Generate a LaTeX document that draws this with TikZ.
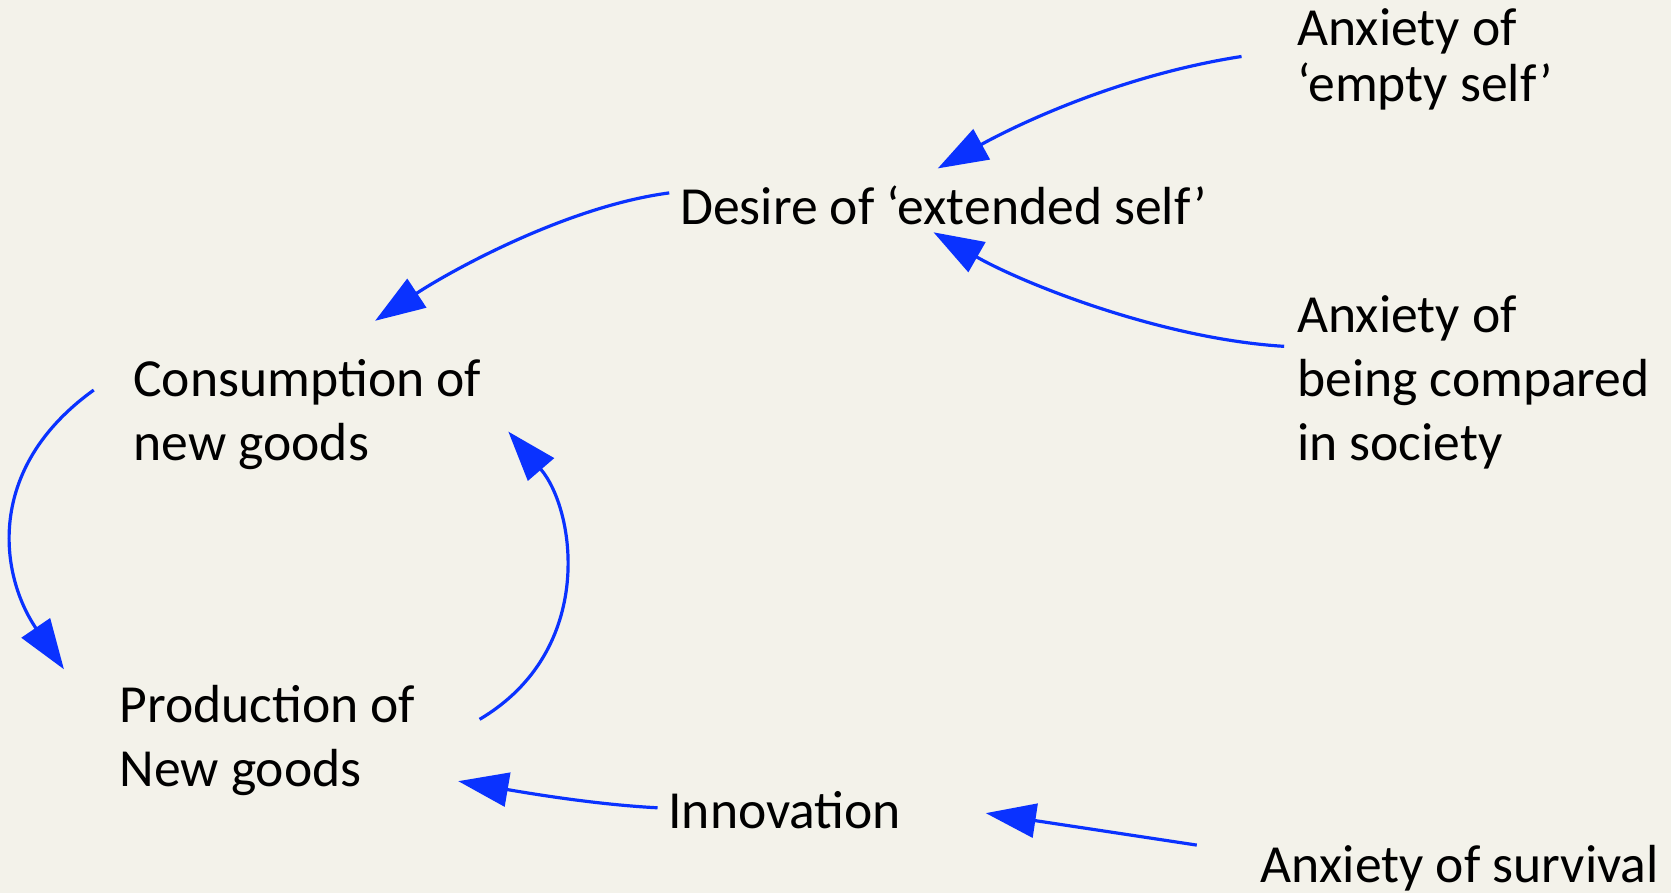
\documentclass[tikz,border=0pt]{standalone}
\usepackage{fontspec}
\setmainfont{Carlito}
\usetikzlibrary{arrows.meta}
\definecolor{bgc}{RGB}{243,242,234}
\definecolor{arrowblue}{RGB}{10,50,255}
\begin{document}
\begin{tikzpicture}[x=1pt,y=-1pt,
  lbl/.style={anchor=base west,inner sep=0pt,align=left,text=black,
    font=\fontsize{50.3}{60}\selectfont},
  conn/.style={draw=arrowblue,line width=3pt,
    -{Triangle[length=47pt,width=32pt]}}]
\fill[bgc] (0,0) rectangle (1568,838);
\useasboundingbox (0,0) rectangle (1568,838);

% multi-line nodes: base anchor lies on the last line
\node[lbl,font=\fontsize{50.3}{52}\selectfont] (anx1) at (1217,95) {Anxiety of\\‘empty self’};
\node[lbl] (desire) at (638,211) {Desire of ‘extended self’};
\node[lbl] (cons) at (125,432) {Consumption of\\new goods};
\node[lbl] (prod) at (112,738) {Production of\\New goods};
\node[lbl] (innov) at (627,777) {Innovation};
\node[lbl] (anx2) at (1217,432) {Anxiety of\\being compared\\in society};
\node[lbl] (anx3) at (1183,828) {Anxiety of survival};

\coordinate (a1s) at (1165,53);   \coordinate (a1e) at (880,158);
\coordinate (a2s) at (1205,325);  \coordinate (a2e) at (876,218);
\coordinate (a3s) at (628,181);   \coordinate (a3e) at (352,301);
\coordinate (a4s) at (88,366);    \coordinate (a4e) at (60,628);
\coordinate (a5s) at (450,675);   \coordinate (a5e) at (477,405);
\coordinate (a6s) at (617,758);   \coordinate (a6e) at (430,733);
\coordinate (a7s) at (1123,793);  \coordinate (a7e) at (925,763);

\draw[conn] (a1s) .. controls (1055,70) and (960,114) .. (a1e);
\draw[conn] (a2s) .. controls (1090,318) and (960,266) .. (a2e);
\draw[conn] (a3s) .. controls (530,194) and (420,256) .. (a3e);
\draw[conn] (a4s) .. controls (-15,440) and (0,540) .. (a4e);
\draw[conn] (a5s) .. controls (560,610) and (540,478) .. (a5e);
\draw[conn] (a6s) .. controls (560,755) and (500,745) .. (a6e);
\draw[conn] (a7s) -- (a7e);
\end{tikzpicture}
\end{document}
